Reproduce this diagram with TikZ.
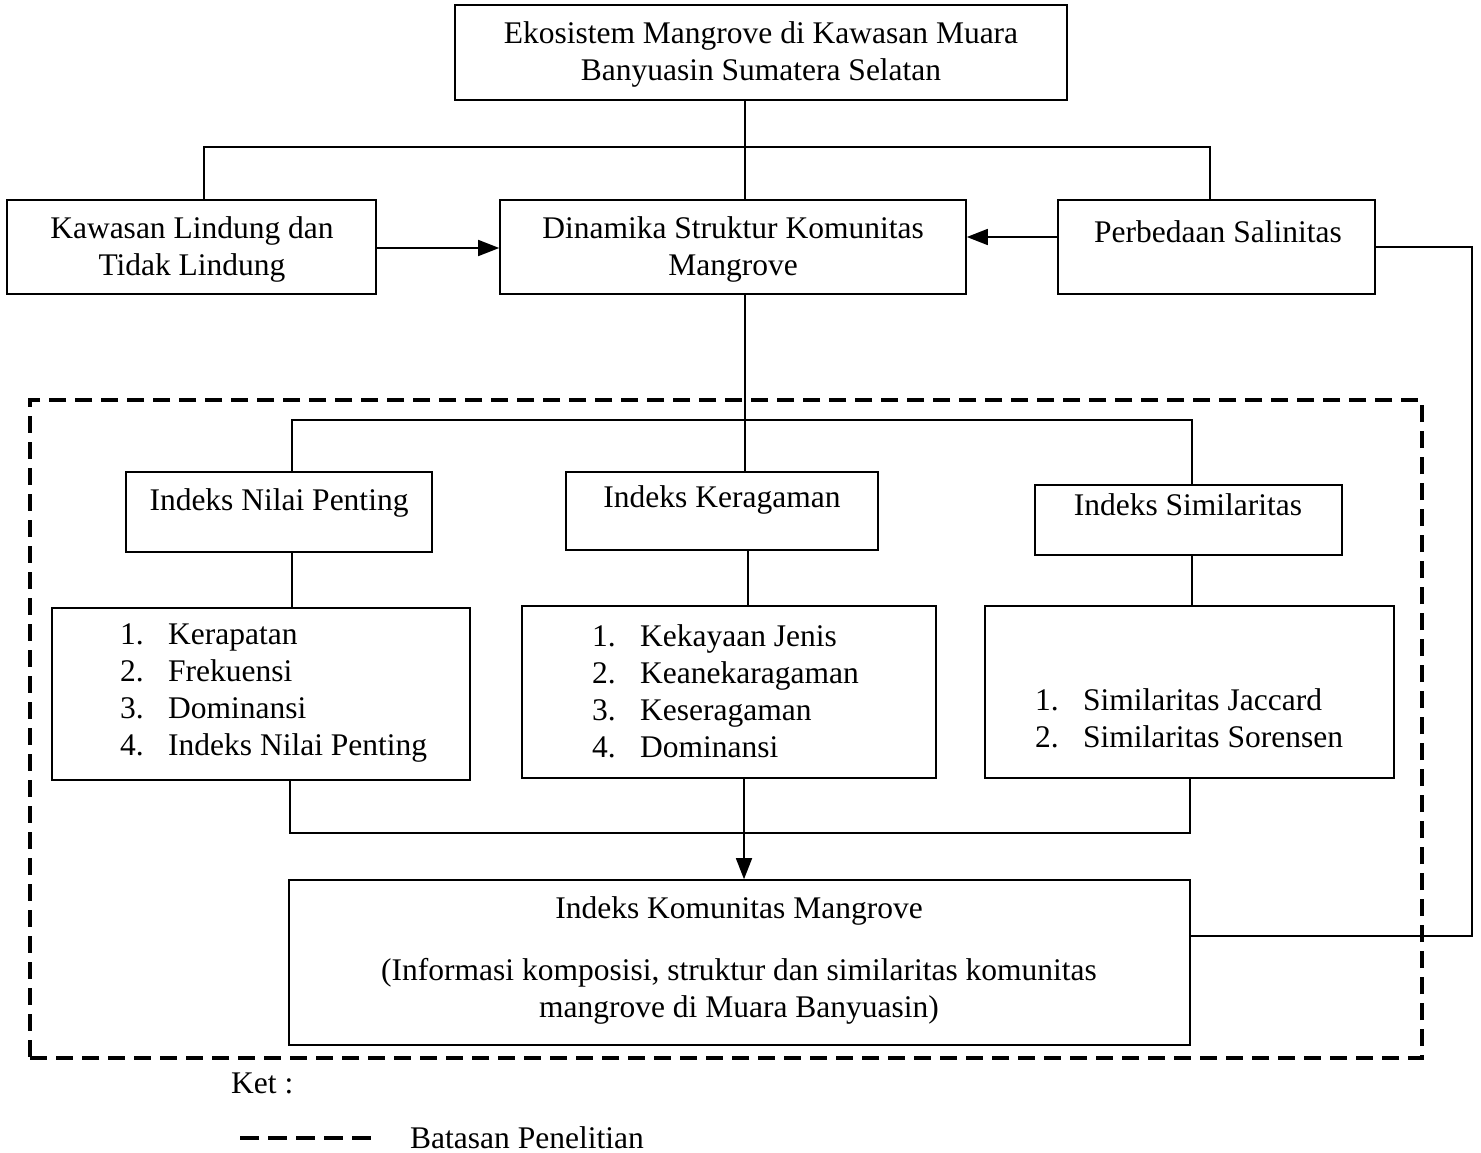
\documentclass[tikz,border=0pt]{standalone}
\usepackage{fontspec}
\setmainfont{Liberation Serif}
\usetikzlibrary{arrows.meta}
\begin{document}
\begin{tikzpicture}[x=1pt,y=-1pt,
  box/.style={draw,line width=1.6pt,inner sep=0pt},
  txt/.style={inner sep=0pt,align=center,font=\fontsize{31.5}{37}\selectfont},
  lst/.style={inner sep=0pt,align=left,anchor=west,font=\fontsize{31.5}{37}\selectfont},
  conn/.style={line width=1.6pt},
  arr/.style={line width=1.6pt,-{Triangle[length=21pt,width=16pt]}},
  batas/.style={line width=3.6pt,dash pattern=on 17pt off 9pt},
  legline/.style={line width=3.6pt,dash pattern=on 19pt off 9pt}]
\useasboundingbox (0,0) rectangle (1481,1153);
\newcommand{\nm}[1]{\makebox[48pt][l]{#1}}
% boxes
\node[box,minimum width=612pt,minimum height=95pt] (top) at (761,52.5) {};
\node[box,minimum width=369pt,minimum height=94pt] (kaw) at (191.5,247) {};
\node[box,minimum width=466pt,minimum height=94pt] (din) at (733,247) {};
\node[box,minimum width=317pt,minimum height=94pt] (per) at (1216.5,247) {};
\node[box,minimum width=306pt,minimum height=80pt] (inp) at (279,512) {};
\node[box,minimum width=312pt,minimum height=78pt] (ikr) at (722,511) {};
\node[box,minimum width=307pt,minimum height=70pt] (isi) at (1188.5,520) {};
\node[box,minimum width=418pt,minimum height=172pt] (l1) at (261,694) {};
\node[box,minimum width=414pt,minimum height=172pt] (l2) at (729,692) {};
\node[box,minimum width=409pt,minimum height=172pt] (l3) at (1189.5,692) {};
\node[box,minimum width=901pt,minimum height=165pt] (kom) at (739.5,962.5) {};
\node[batas,draw,inner sep=0pt,minimum width=1392pt,minimum height=658pt] (bts) at (726,729) {};
% texts
\node[txt] (ttop) at (761,54) {Ekosistem Mangrove di Kawasan Muara\\Banyuasin Sumatera Selatan};
\node[txt] (tkaw) at (192,249) {Kawasan Lindung dan\\Tidak Lindung};
\node[txt] (tdin) at (733,249) {Dinamika Struktur Komunitas\\Mangrove};
\node[txt] (tper) at (1218,232) {Perbedaan Salinitas};
\node[txt] (tinp) at (279,503) {Indeks Nilai Penting};
\node[txt] (tikr) at (722,500) {Indeks Keragaman};
\node[txt] (tisi) at (1188,505) {Indeks Similaritas};
\node[lst] (tl1) at (120,692.5) {\nm{1.}Kerapatan\\\nm{2.}Frekuensi\\\nm{3.}Dominansi\\\nm{4.}Indeks Nilai Penting};
\node[lst] (tl2) at (592,691) {\nm{1.}Kekayaan Jenis\\\nm{2.}Keanekaragaman\\\nm{3.}Keseragaman\\\nm{4.}Dominansi};
\node[lst] (tl3) at (1035,718.5) {\nm{1.}Similaritas Jaccard\\\nm{2.}Similaritas Sorensen};
\node[txt] (tk1) at (739,911) {Indeks Komunitas Mangrove};
\node[txt] (tk2) at (739,991.5) {(Informasi komposisi, struktur dan similaritas komunitas\\mangrove di Muara Banyuasin)};
% coordinates
\coordinate (cA) at (745,147);
\coordinate (cL) at (204,147);
\coordinate (cR) at (1210,147);
\coordinate (yk) at (0,248);
\coordinate (yp) at (0,237);
\coordinate (rt) at (1472,247);
\coordinate (rb) at (1472,936);
\coordinate (b1) at (745,420);
\coordinate (bL) at (292,420);
\coordinate (bR) at (1192,420);
\coordinate (m2) at (748,0);
\coordinate (dL) at (290,833);
\coordinate (dR) at (1190,833);
\coordinate (dm) at (744,0);
% connectors
\draw[conn] (top.south -| cA) -- (din.north -| cA);
\draw[conn] (kaw.north -| cL) -- (cL) -- (cR) -- (per.north -| cR);
\draw[arr] (kaw.east |- yk) -- (din.west |- yk);
\draw[arr] (per.west |- yp) -- (din.east |- yp);
\draw[conn] (per.east |- rt) -- (rt) -- (rb) -- (kom.east |- rb);
\draw[conn] (din.south -| b1) -- (ikr.north -| b1);
\draw[conn] (inp.north -| bL) -- (bL) -- (bR) -- (isi.north -| bR);
\draw[conn] (inp.south -| bL) -- (l1.north -| bL);
\draw[conn] (ikr.south -| m2) -- (l2.north -| m2);
\draw[conn] (isi.south -| bR) -- (l3.north -| bR);
\draw[conn] (l1.south -| dL) -- (dL) -- (dR) -- (l3.south -| dR);
\draw[arr] (l2.south -| dm) -- (kom.north -| dm);
% legend
\node[txt,anchor=west] (ket) at (231,1083) {Ket :};
\coordinate (g1) at (240,1138);
\coordinate (g2) at (371,1138);
\draw[legline] (g1) -- (g2);
\node[txt,anchor=west] (leg) at (410,1138) {Batasan Penelitian};
\end{tikzpicture}
\end{document}
